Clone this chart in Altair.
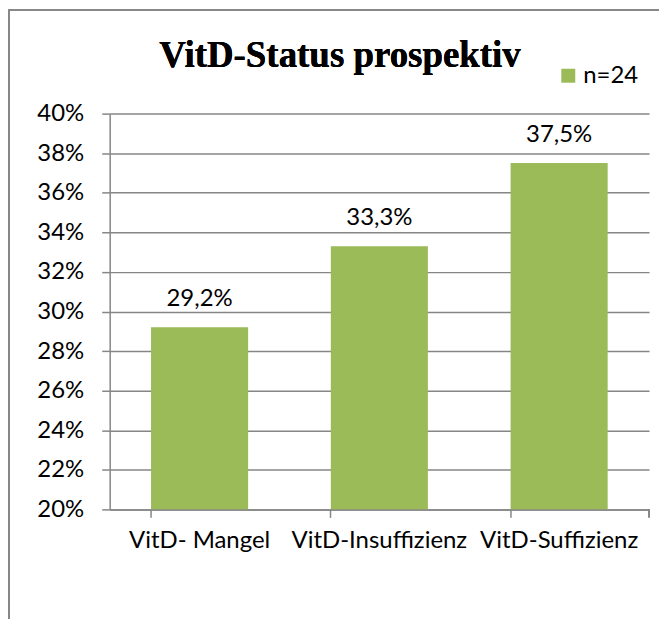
import altair as alt
import pandas as pd

categories = ["VitD- Mangel", "VitD-Insuffizienz", "VitD-Suffizienz"]
values = [0.292, 0.333, 0.375]
labels = ["29,2%", "33,3%", "37,5%"]
series = "n=24"
y_ticks = [0.20, 0.22, 0.24, 0.26, 0.28, 0.30, 0.32, 0.34, 0.36, 0.38, 0.40]

df = pd.DataFrame({"cat": categories, "val": values, "lab": labels, "series": [series] * 3})

W, H = 541, 397
FONT = "Lato"
FS = 24
GRID = "#868686"
GREEN = "#9BBB59"

x = alt.X("cat:N", sort=categories, title=None,
          scale=alt.Scale(paddingInner=0.46, paddingOuter=0.23),
          axis=alt.Axis(labelAngle=0, labelFontSize=FS, labelFont=FONT, labelColor="black",
                        domainColor=GRID, tickColor=GRID, tickSize=8, bandPosition=0,
                        labelPadding=11, domainWidth=1.5, tickWidth=1.5, labelOverlap=False))
y = alt.Y("val:Q", title=None,
          scale=alt.Scale(domain=[0.2, 0.4], zero=False, clamp=True),
          axis=alt.Axis(values=y_ticks, tickCount=20, format=".0%", labelFontSize=FS, labelFont=FONT,
                        labelColor="black", domainColor=GRID, tickColor=GRID, tickSize=8,
                        gridColor=GRID, grid=True, labelPadding=18, domainWidth=1.5,
                        tickWidth=1.5, gridWidth=1.5, labelOverlap=False))

bars = alt.Chart(df).mark_bar(clip=True).encode(
    x=x, y=y, y2=alt.datum(0.2),
    color=alt.Color("series:N", scale=alt.Scale(range=[GREEN]),
                    legend=alt.Legend(title=None, orient="none", legendX=448, legendY=-50,
                                      symbolType="square", symbolSize=196, symbolStrokeWidth=0,
                                      labelFontSize=FS, labelFont=FONT, labelColor="black",
                                      padding=0, labelOffset=3)),
)

text = alt.Chart(df).mark_text(dy=-21, fontSize=FS, font=FONT, color="black", baseline="alphabetic").encode(
    x=alt.X("cat:N", sort=categories), y="val:Q", text="lab:N"
)

title = alt.Chart(df).mark_text(font="Liberation Serif", fontSize=37, fontWeight="bold",
                                color="black", baseline="alphabetic", align="center").encode(
    x=alt.value(231), y=alt.value(-47), text=alt.datum("VitD-Status prospektiv")
)

border = alt.Chart(df).mark_rect(fill=None, stroke=GRID, strokeWidth=1.5).encode(
    x=alt.value(-101), y=alt.value(-104), x2=alt.value(W + 200), y2=alt.value(H + 300)
)

end_tick = alt.Chart(df).mark_rule(color=GRID, strokeWidth=1.5).encode(
    x=alt.value(W), y=alt.value(H), y2=alt.value(H + 8)
)

chart = alt.layer(border, bars, text, title, end_tick).properties(
    width=W, height=H,
    autosize=alt.AutoSizeParams(type="none"),
    padding={"left": 102, "top": 105, "right": 10, "bottom": 110},
).configure_view(stroke=None)

chart.save("out.html", embed_options={"renderer": "svg", "actions": False})
